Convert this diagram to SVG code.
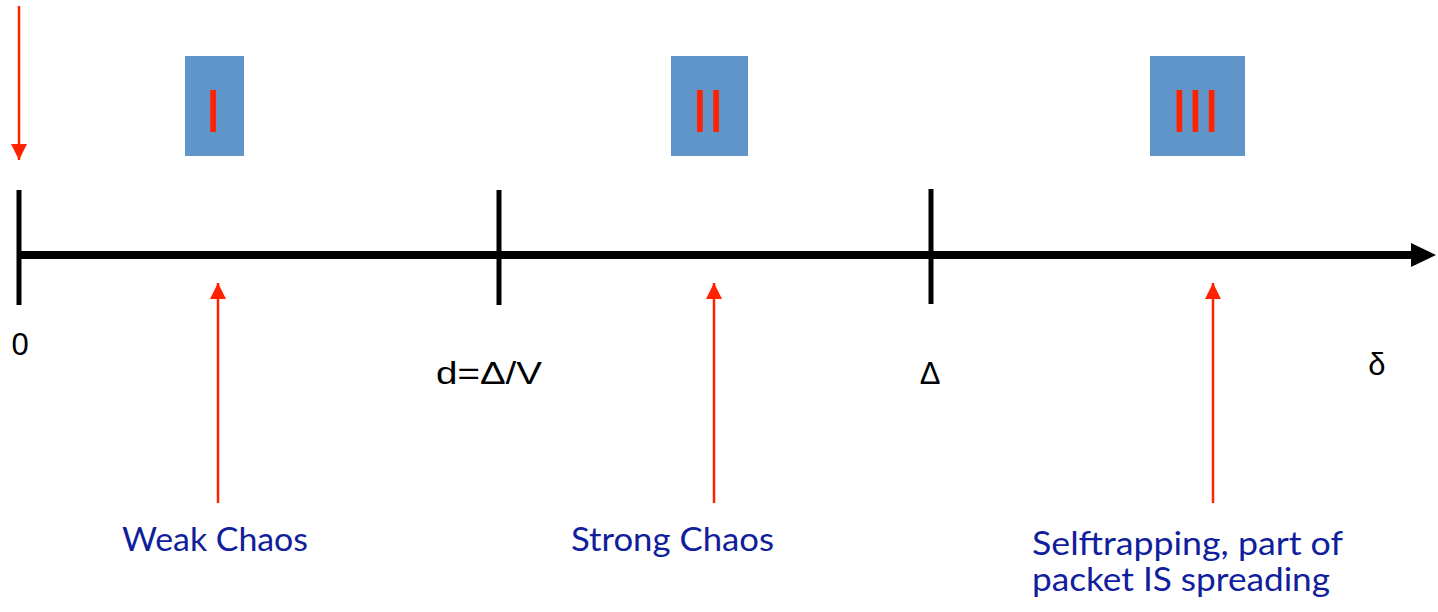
<svg xmlns="http://www.w3.org/2000/svg" width="1438" height="612" viewBox="0 0 1438 612">
<style>
.box{fill:#6095c9}
.num{font-family:Lato,"Open Sans",sans-serif;font-size:58px;fill:#ff2200;text-anchor:middle}
.lbl{font-family:"Liberation Sans",Arial,sans-serif;font-size:31px;fill:#000}
.blue{font-family:Lato,"Open Sans",sans-serif;font-size:32px;fill:#10209c}
.tick{stroke:#000;stroke-width:5}
.red{stroke:#ff2200;stroke-width:2.5;fill:none}
</style>
<defs>
<marker id="rh" viewBox="0 0 16 16" markerWidth="16" markerHeight="16" refX="16" refY="8" orient="auto" markerUnits="userSpaceOnUse">
<path d="M0,0 L16,8 L0,16 Z" fill="#ff2200"/>
</marker>
</defs>
<g id="axis">
<line x1="19" y1="255" x2="1412" y2="255" stroke="#000" stroke-width="8"/>
<polygon points="1411,243 1436,255 1411,267" fill="#000"/>
<line class="tick" x1="19" y1="190" x2="19" y2="305"/>
<line class="tick" x1="499" y1="190" x2="499" y2="305"/>
<line class="tick" x1="931" y1="189" x2="931" y2="304"/>
<text class="lbl" x="20" y="355" text-anchor="middle">0</text>
<text class="lbl" x="436" y="384" font-size="35" textLength="106" lengthAdjust="spacingAndGlyphs">d=Δ/V</text>
<text class="lbl" x="930" y="384" text-anchor="middle" font-size="34">Δ</text>
<text class="lbl" x="1377" y="375" text-anchor="middle" font-size="40">δ</text>
</g>
<g id="region1">
<rect class="box" x="185" y="56" width="59" height="100"/>
<text class="num" x="213" y="132">I</text>
</g>
<g id="region2">
<rect class="box" x="671" y="56" width="77" height="100"/>
<text class="num" x="708" y="132">II</text>
</g>
<g id="region3">
<rect class="box" x="1150" y="56" width="95" height="100"/>
<text class="num" x="1195.5" y="132">III</text>
</g>
<g id="connectors">
<line class="red" x1="19" y1="6" x2="19" y2="160" stroke-width="3" marker-end="url(#rh)"/>
<line class="red" x1="218" y1="503" x2="218" y2="283" marker-end="url(#rh)"/>
<line class="red" x1="714" y1="503" x2="714" y2="283" marker-end="url(#rh)"/>
<line class="red" x1="1213" y1="503" x2="1213" y2="283" marker-end="url(#rh)"/>
</g>
<g id="weak">
<text class="blue" x="122" y="551" textLength="186" lengthAdjust="spacingAndGlyphs">Weak Chaos</text>
</g>
<g id="strong">
<text class="blue" x="571" y="551" textLength="203" lengthAdjust="spacingAndGlyphs">Strong Chaos</text>
</g>
<g id="selftrap">
<text class="blue" x="1032" y="555" textLength="311" lengthAdjust="spacingAndGlyphs">Selftrapping, part of</text>
<text class="blue" x="1032" y="591" textLength="298" lengthAdjust="spacingAndGlyphs">packet IS spreading</text>
</g>
</svg>
